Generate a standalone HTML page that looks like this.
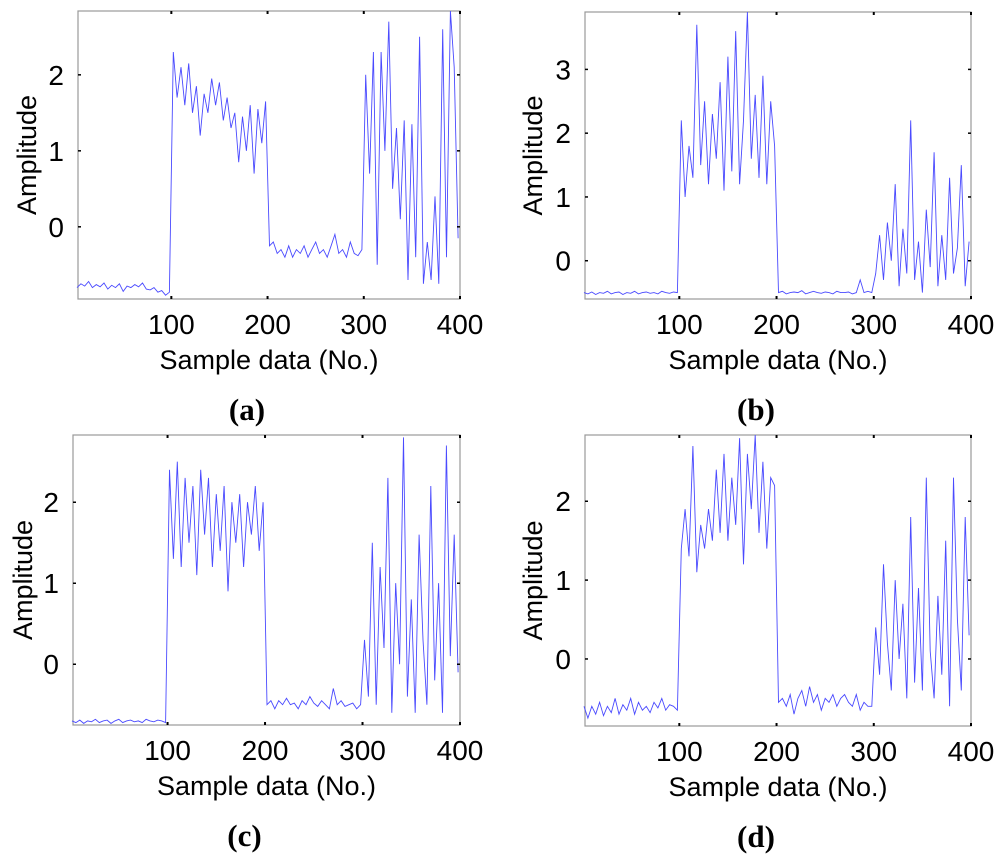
<!DOCTYPE html>
<html><head><meta charset="utf-8"><style>
html,body{margin:0;padding:0;background:#fff;}
svg text{font-family:"Liberation Sans",sans-serif;fill:#000;}
</style></head><body>
<svg id="fig" width="1000" height="859" viewBox="0 0 1000 859" xmlns="http://www.w3.org/2000/svg"></svg>
<script>
const xTicks=[100,200,300,400];
const seriesA=[-0.8,-0.75,-0.78,-0.72,-0.8,-0.76,-0.79,-0.74,-0.82,-0.77,-0.8,-0.75,-0.85,-0.78,-0.8,-0.76,-0.79,-0.74,-0.82,-0.83,-0.8,-0.86,-0.84,-0.9,-0.86,
2.3,1.7,2.1,1.6,2.15,1.5,1.85,1.2,1.75,1.5,1.95,1.6,1.9,1.4,1.7,1.3,1.5,0.85,1.45,1.0,1.6,0.7,1.55,1.1,1.65,
-0.25,-0.2,-0.35,-0.3,-0.4,-0.25,-0.4,-0.3,-0.35,-0.25,-0.4,-0.3,-0.2,-0.35,-0.3,-0.4,-0.25,-0.1,-0.35,-0.3,-0.4,-0.2,-0.35,-0.38,-0.3,
2.0,0.7,2.3,-0.5,2.3,1.0,2.7,0.5,1.3,0.1,1.4,-0.7,1.35,-0.4,2.5,-0.75,-0.2,-0.7,0.4,-0.75,2.6,-0.4,2.9,2.1,-0.15];
const seriesB=[-0.5,-0.52,-0.49,-0.53,-0.5,-0.51,-0.48,-0.52,-0.5,-0.49,-0.53,-0.5,-0.51,-0.48,-0.52,-0.5,-0.49,-0.51,-0.5,-0.52,-0.48,-0.5,-0.51,-0.49,-0.5,
2.2,1.0,1.8,1.3,3.7,1.5,2.5,1.2,2.3,1.6,2.8,1.1,3.2,1.4,3.6,1.2,2.2,3.9,1.6,2.6,1.3,2.9,1.2,2.5,1.8,
-0.5,-0.48,-0.52,-0.5,-0.49,-0.5,-0.47,-0.52,-0.5,-0.48,-0.5,-0.51,-0.49,-0.5,-0.52,-0.48,-0.5,-0.5,-0.49,-0.52,-0.5,-0.3,-0.5,-0.48,-0.5,
-0.2,0.4,-0.3,0.6,0.0,1.2,-0.4,0.5,-0.2,2.2,-0.3,0.3,-0.5,0.8,-0.1,1.7,-0.4,0.4,-0.3,1.3,-0.2,0.2,1.5,-0.4,0.3];
const seriesC=[-0.7,-0.72,-0.69,-0.73,-0.7,-0.71,-0.68,-0.72,-0.7,-0.69,-0.73,-0.7,-0.68,-0.72,-0.7,-0.69,-0.71,-0.7,-0.72,-0.68,-0.7,-0.71,-0.69,-0.7,-0.72,
2.4,1.3,2.5,1.2,2.3,1.5,2.2,1.1,2.4,1.6,2.3,1.2,2.1,1.4,2.2,0.9,2.0,1.5,2.1,1.2,2.0,1.6,2.2,1.4,2.0,
-0.5,-0.45,-0.55,-0.45,-0.5,-0.42,-0.5,-0.48,-0.55,-0.45,-0.5,-0.4,-0.48,-0.52,-0.45,-0.5,-0.55,-0.3,-0.5,-0.45,-0.52,-0.5,-0.48,-0.55,-0.5,
0.3,-0.4,1.5,-0.5,1.2,0.2,2.3,-0.6,1.0,0.0,2.8,-0.4,0.8,-0.6,1.6,0.3,-0.5,2.2,-0.2,1.0,-0.6,2.7,0.1,1.6,-0.1];
const seriesD=[-0.6,-0.75,-0.6,-0.7,-0.55,-0.72,-0.6,-0.68,-0.5,-0.7,-0.58,-0.65,-0.5,-0.7,-0.55,-0.65,-0.6,-0.68,-0.55,-0.62,-0.5,-0.65,-0.58,-0.6,-0.65,
1.4,1.9,1.3,2.7,1.1,1.7,1.4,1.9,1.5,2.4,1.6,2.6,1.5,2.3,1.7,2.8,1.2,2.6,1.9,2.9,1.6,2.5,1.4,2.3,2.2,
-0.55,-0.5,-0.6,-0.45,-0.7,-0.5,-0.4,-0.6,-0.35,-0.55,-0.45,-0.65,-0.5,-0.55,-0.45,-0.6,-0.5,-0.45,-0.55,-0.6,-0.45,-0.65,-0.55,-0.6,-0.6,
0.4,-0.2,1.2,0.2,-0.4,1.0,0.0,0.7,-0.5,1.8,-0.3,0.9,-0.4,2.3,0.1,-0.5,0.8,-0.2,1.5,-0.6,2.3,0.5,-0.4,1.8,0.3];
const panels=[
 {id:'a',data:seriesA,L:78,R:460,T:11,B:299,ymin:-0.95,ymax:2.84,yt:[0,1,2],ylx:36},
 {id:'b',data:seriesB,L:585,R:971,T:12,B:299,ymin:-0.6,ymax:3.9,yt:[0,1,2,3],ylx:542},
 {id:'c',data:seriesC,L:73,R:460,T:435,B:725,ymin:-0.75,ymax:2.83,yt:[0,1,2],ylx:32},
 {id:'d',data:seriesD,L:585,R:971,T:435,B:726,ymin:-0.85,ymax:2.84,yt:[0,1,2],ylx:542}];
const NS='http://www.w3.org/2000/svg';
const svg=document.getElementById('fig');
function mk(tag,attrs,parent,txt){const e=document.createElementNS(NS,tag);for(const k in attrs)e.setAttribute(k,attrs[k]);if(txt!==undefined)e.textContent=txt;parent.appendChild(e);return e;}
panels.forEach(p=>{
 const g=mk('g',{},svg);
 
 
 const xs=v=>p.L+(v-3)/(400-3)*(p.R-p.L);
 const ys=v=>p.B-(v-p.ymin)/(p.ymax-p.ymin)*(p.B-p.T);
 const box=mk('rect',{x:p.L,y:p.T,width:p.R-p.L,height:p.B-p.T,fill:'none',stroke:'#999','stroke-width':1.2},g);
 
 
 let d='';
 p.data.forEach((v,i)=>{const x=xs(4*i+2);const y=ys(Math.max(p.ymin,Math.min(p.ymax,v)));d+=(i?'L':'M')+x.toFixed(1)+','+y.toFixed(1);});
 const ln=mk('path',{d:d,fill:'none',stroke:'#4a4aff','stroke-width':0.9},g);
 
 
 xTicks.forEach(t=>{const x=xs(t);
  mk('line',{x1:x,x2:x,y1:p.T,y2:p.T+3,stroke:'#000','stroke-width':2},g);
  mk('line',{x1:x,x2:x,y1:p.B,y2:p.B-3,stroke:'#000','stroke-width':2},g);
  const tl=mk('text',{x:x,y:p.B+35,'font-size':28,'text-anchor':'middle'},g,String(t));
  
  });
 p.yt.forEach(t=>{const y=ys(t);
  mk('line',{x1:p.L,x2:p.L+3,y1:y,y2:y,stroke:'#000','stroke-width':1.5},g);
  mk('line',{x1:p.R,x2:p.R-3,y1:y,y2:y,stroke:'#000','stroke-width':1.5},g);
  const tl=mk('text',{x:p.L-14,y:y+10,'font-size':28,'text-anchor':'end'},g,String(t));
  
  });
 const cy=(p.T+p.B)/2;
 const yl=mk('text',{x:p.ylx,y:cy,'font-size':27,'text-anchor':'middle',transform:'rotate(-90 '+p.ylx+' '+cy+')'},g,'Amplitude');
 
 
 const cx=(p.L+p.R)/2;
 const xl=mk('text',{x:cx,y:p.B+70,'font-size':27,'text-anchor':'middle'},g,'Sample data (No.)');
 
 
 const cap=mk('text',{x:cx-22,y:p.B+121,'font-size':31,'font-weight':'bold','text-anchor':'middle',style:'font-family:"Liberation Serif",serif'},g,'('+p.id+')');
 
 
});
</script>
</body></html>
